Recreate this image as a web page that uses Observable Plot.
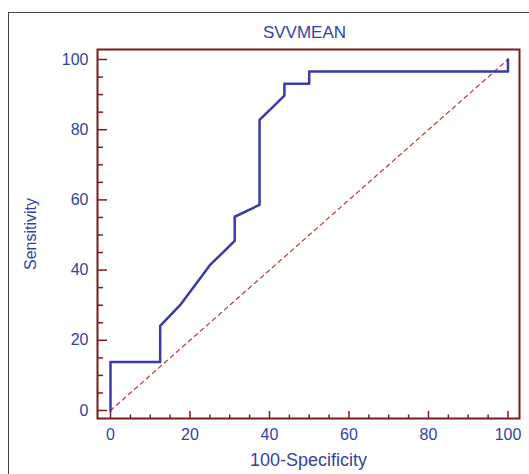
<!DOCTYPE html>
<html>
<head>
<meta charset="utf-8">
<script src="https://cdn.jsdelivr.net/npm/d3@7"></script>
<script src="https://cdn.jsdelivr.net/npm/@observablehq/plot@0.6"></script>
<style>
  html, body { margin: 0; padding: 0; background: white; }
  #wrap { position: relative; width: 529px; height: 474px; overflow: hidden; }
  #border { position: absolute; left: 8px; top: 12px; width: 700px; height: 700px;
            border-left: 1.5px solid #444; border-top: 1.5px solid #444; pointer-events: none; }
</style>
</head>
<body>
<div id="wrap"><div id="chart"></div><div id="border"></div></div>
<script>
// ROC curve for SVVMEAN
const specComplement = [0, 0, 12.5, 12.5, 17.5, 25, 31.25, 31.25, 37.5, 37.5, 40.6, 43.75, 43.75, 50, 50, 100, 100];
const sensitivity    = [0, 13.8, 13.8, 24.1, 30.0, 41.4, 48.3, 55.2, 58.6, 82.8, 86.2, 89.7, 93.1, 93.1, 96.6, 96.6, 100];
const diagX = [0, 100];
const diagY = [0, 100];
const majorTicks = [0, 20, 40, 60, 80, 100];
const minorTicks = [5, 10, 15, 25, 30, 35, 45, 50, 55, 65, 70, 75, 85, 90, 95];
const titleText = "SVVMEAN";
const xLabel = "100-Specificity";
const yLabel = "Sensitivity";

const curve = specComplement.map((x, i) => ({x, y: sensitivity[i]}));
const diag = diagX.map((x, i) => ({x, y: diagY[i]}));

const red = "#7a1a1a";
const blue = "#3343a3";

const plot = Plot.plot({
  width: 529,
  height: 474,
  marginLeft: 97,
  marginRight: 10,
  marginTop: 49,
  marginBottom: 56,
  style: {fontFamily: "'Liberation Sans', Arial, sans-serif", fontSize: "16px", background: "transparent", color: blue},
  x: {domain: [-3.27, 102.9], axis: null},
  y: {domain: [-2.28, 102.85], axis: null},
  marks: [
    Plot.line(diag, {x: "x", y: "y", stroke: "#b84848", strokeWidth: 1.3, strokeDasharray: "4,4"}),
    Plot.line(curve, {x: "x", y: "y", stroke: "#3a3aa8", strokeWidth: 2.5, curve: "linear"}),
    Plot.axisY({ticks: minorTicks, tickSize: -6, fill: "none", stroke: red, strokeWidth: 1.5, label: null}),
    Plot.axisX({ticks: minorTicks, tickSize: -3.5, fill: "none", stroke: red, strokeWidth: 1.5, label: null}),
    Plot.axisY({ticks: majorTicks, tickSize: -10, tickPadding: 19, stroke: red, fill: blue, strokeWidth: 1.5, fontSize: 16, letterSpacing: "0.6px", label: null}),
    Plot.axisX({ticks: majorTicks, tickSize: -7, tickPadding: 17, stroke: red, fill: blue, strokeWidth: 1.5, fontSize: 16, letterSpacing: "0.6px", label: null}),
    Plot.frame({stroke: red, strokeWidth: 2}),
    Plot.text([titleText], {frameAnchor: "top", lineAnchor: "middle", dy: -17, dx: -4, fontSize: 17, fill: blue, letterSpacing: "1.6px"}),
    Plot.text([xLabel], {frameAnchor: "bottom", lineAnchor: "middle", dy: 41.5, fontSize: 18, fill: blue, letterSpacing: "0.5px"}),
    Plot.text([yLabel], {frameAnchor: "left", textAnchor: "middle", dx: -67, rotate: -90, fontSize: 16, fill: blue, letterSpacing: "0.3px"})
  ]
});
document.getElementById("chart").appendChild(plot);
</script>
</body>
</html>
